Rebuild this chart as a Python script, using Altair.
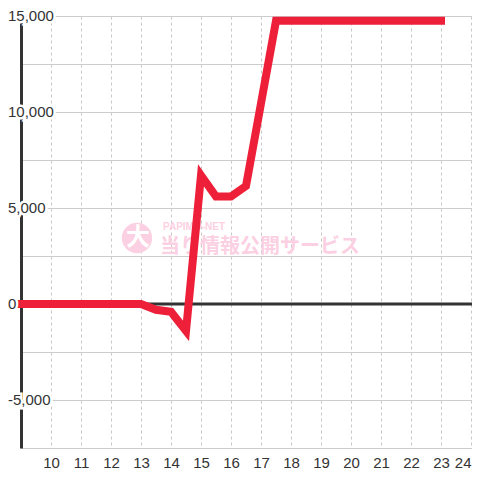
import altair as alt
import pandas as pd

# Data
hours = [9, 9.5, 10, 10.5, 11, 11.5, 12, 12.5, 13, 13.5, 14, 14.5, 15, 15.5,
         16, 16.5, 17, 17.5, 18, 18.5, 19, 19.5, 20, 20.5, 21, 21.5, 22, 22.5, 23]
values = [0, 0, 0, 0, 0, 0, 0, 0, 0, -300, -400, -1400, 6700, 5600,
          5600, 6150, 10450, 14750, 14750, 14750, 14750, 14750, 14750, 14750,
          14750, 14750, 14750, 14750, 14750]

y_label_values = [15000, 10000, 5000, 0, -5000]
y_label_texts = ["15,000", "10,000", "5,000", "0", "-5,000"]
x_ticks = [10, 11, 12, 13, 14, 15, 16, 17, 18, 19, 20, 21, 22, 23, 24]
y_grid = [-7500, -5000, -2500, 0, 2500, 5000, 7500, 10000, 12500, 15000]

df = pd.DataFrame({"hour": hours, "value": values})
labels_df = pd.DataFrame({"v": y_label_values, "t": y_label_texts})

FONT = "Liberation Sans"
xscale = alt.Scale(domain=[9, 24.033], nice=False, zero=False)
yscale = alt.Scale(domain=[-7500, 15000], nice=False)

x_axis = alt.Axis(values=x_ticks, grid=True, gridDash=[3, 3], gridColor="#c8c8c8",
                  gridWidth=1, domain=False, ticks=False, labelFontSize=15,
                  labelColor="#333333", labelFont=FONT, labelPadding=7, title=None,
                  labelFlush=4)
y_axis = alt.Axis(values=y_grid, grid=True, gridColor="#cccccc", gridWidth=1,
                  domain=True, domainColor="#333333", domainWidth=3, ticks=False,
                  labels=False, title=None)

base = alt.Chart(df)

line = base.mark_line(color="#ee1f38", strokeWidth=8, strokeCap="square",
                      strokeJoin="miter", clip=False).encode(
    x=alt.X("hour:Q", scale=xscale, axis=x_axis),
    y=alt.Y("value:Q", scale=yscale, axis=y_axis),
)

zero = alt.Chart(pd.DataFrame({"v": [0]})).mark_rule(color="#333333", strokeWidth=3).encode(
    y=alt.Y("v:Q", scale=yscale),
    x=alt.value(0), x2=alt.value(451),
)

# watermark
wm_circle = alt.Chart(pd.DataFrame({"a": [0]})).mark_circle(
    color="#fbd0e2", opacity=1, size=920).encode(x=alt.value(116), y=alt.value(222))
wm_big = alt.Chart(pd.DataFrame({"a": [0]})).mark_text(
    text="大", color="white", fontSize=24, fontWeight="bold", font="Noto Sans CJK JP",
    align="center", baseline="middle").encode(x=alt.value(117), y=alt.value(222))
wm_small = alt.Chart(pd.DataFrame({"a": [0]})).mark_text(
    text="PAPIMO-NET", color="#fbd0e2", fontSize=10, fontWeight="bold", font=FONT,
    align="left", baseline="middle").encode(x=alt.value(142), y=alt.value(211))
wm_main = alt.Chart(pd.DataFrame({"a": [0]})).mark_text(
    text="当り情報公開サービス", color="#fbd0e2", fontSize=20, fontWeight="bold",
    font="Noto Sans CJK JP", align="left", baseline="middle").encode(
    x=alt.value(139), y=alt.value(231))

lab_halo = alt.Chart(labels_df).mark_text(
    align="left", baseline="middle", fontSize=15, font=FONT, color="white",
    stroke="white", strokeWidth=5).encode(
    x=alt.value(-13), y=alt.Y("v:Q", scale=yscale), text="t:N")
lab = alt.Chart(labels_df).mark_text(
    align="left", baseline="middle", fontSize=15, font=FONT, color="#333333").encode(
    x=alt.value(-13), y=alt.Y("v:Q", scale=yscale), text="t:N")

chart = alt.layer(wm_circle, wm_big, wm_small, wm_main, zero, line, lab_halo, lab).properties(
    width=451, height=432, autosize="none",
    padding={"left": 13, "top": 8, "right": 0, "bottom": 22},
    background="white",
).configure_view(stroke=None)

chart.save("out.html", embed_options={"renderer": "svg", "actions": False})
